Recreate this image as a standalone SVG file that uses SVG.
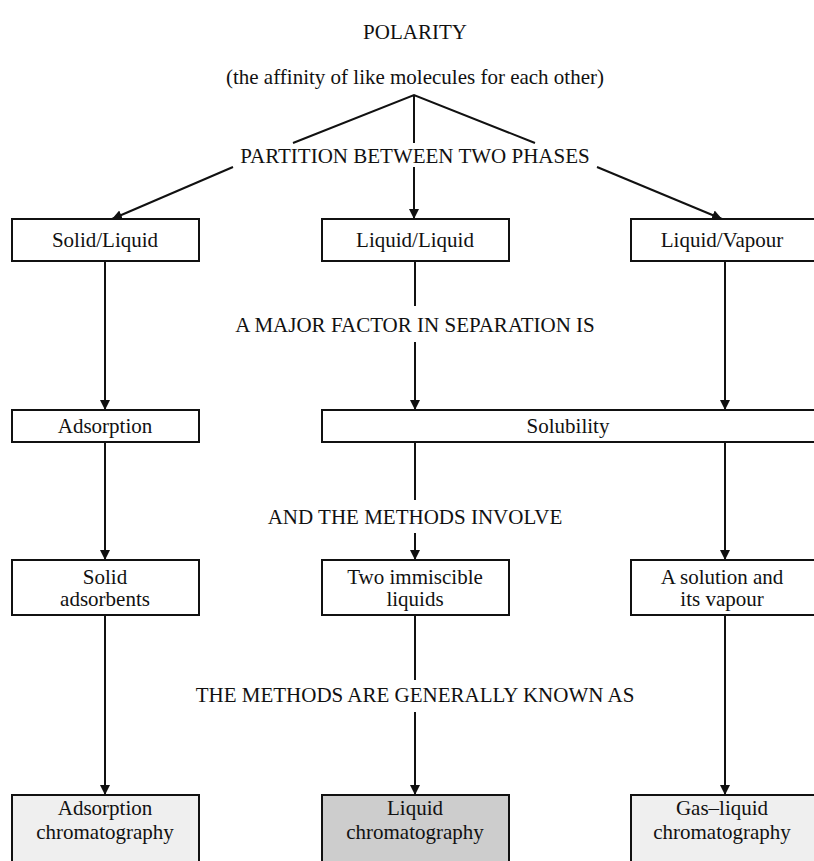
<svg xmlns="http://www.w3.org/2000/svg" width="814" height="861" viewBox="0 0 814 861" font-family="Liberation Serif, Times New Roman, serif">
<style>
text{font-family:'Liberation Serif','Times New Roman',serif;font-size:21px;fill:#111;text-anchor:middle;dominant-baseline:central}
.box{fill:#fff;stroke:#111;stroke-width:2}
.g1{fill:#efefef;stroke:#111;stroke-width:2}
.g2{fill:#cdcdcd;stroke:#111;stroke-width:2}
.c{stroke:#111;stroke-width:2;fill:none}
.a{marker-end:url(#ah)}
</style>
<defs>
<marker id="ah" viewBox="0 0 10 14" refX="10" refY="7" markerWidth="10" markerHeight="14" markerUnits="userSpaceOnUse" orient="auto">
<path d="M0,2 L10,7 L0,12 Z" fill="#111"/>
</marker>
</defs>
<g id="labels">
<text x="415" y="32">POLARITY</text>
<text x="415" y="77">(the affinity of like molecules for each other)</text>
<text x="415" y="156">PARTITION BETWEEN TWO PHASES</text>
<text x="415" y="325">A MAJOR FACTOR IN SEPARATION IS</text>
<text x="415" y="517">AND THE METHODS INVOLVE</text>
<text x="415" y="695">THE METHODS ARE GENERALLY KNOWN AS</text>
</g>
<g id="connectors">
<path class="c" d="M293,143 L414,95 L535,143 M414,95 L414,143"/>
<path class="c a" d="M233,167 L112,219"/>
<path class="c a" d="M414,167 L414,219"/>
<path class="c a" d="M597,167 L722,219"/>
<path class="c a" d="M105,261 L105,410"/>
<path class="c" d="M415,261 L415,306"/>
<path class="c a" d="M415,342 L415,410"/>
<path class="c a" d="M725,261 L725,410"/>
<path class="c a" d="M105,442 L105,560"/>
<path class="c" d="M415,442 L415,500"/>
<path class="c a" d="M415,533 L415,560"/>
<path class="c a" d="M725,442 L725,560"/>
<path class="c a" d="M105,615 L105,795"/>
<path class="c" d="M415,615 L415,680"/>
<path class="c a" d="M415,712 L415,795"/>
<path class="c a" d="M725,615 L725,795"/>
</g>
<g id="solid-liquid"><rect class="box" x="12" y="219" width="187" height="42"/><text x="105" y="240">Solid/Liquid</text></g>
<g id="liquid-liquid"><rect class="box" x="322" y="219" width="187" height="42"/><text x="415" y="240">Liquid/Liquid</text></g>
<g id="liquid-vapour"><rect class="box" x="631" y="219" width="190" height="42"/><text x="722" y="240">Liquid/Vapour</text></g>
<g id="adsorption"><rect class="box" x="12" y="410" width="187" height="32"/><text x="105" y="426">Adsorption</text></g>
<g id="solubility"><rect class="box" x="322" y="410" width="500" height="32"/><text x="568" y="426">Solubility</text></g>
<g id="solid-adsorbents"><rect class="box" x="12" y="560" width="187" height="55"/><text x="105" y="577">Solid</text><text x="105" y="599">adsorbents</text></g>
<g id="two-immiscible"><rect class="box" x="322" y="560" width="187" height="55"/><text x="415" y="577">Two immiscible</text><text x="415" y="599">liquids</text></g>
<g id="solution-vapour"><rect class="box" x="631" y="560" width="190" height="55"/><text x="722" y="577">A solution and</text><text x="722" y="599">its vapour</text></g>
<g id="adsorption-chrom"><rect class="g1" x="12" y="795" width="187" height="80"/><text x="105" y="808">Adsorption</text><text x="105" y="832">chromatography</text></g>
<g id="liquid-chrom"><rect class="g2" x="322" y="795" width="187" height="80"/><text x="415" y="808">Liquid</text><text x="415" y="832">chromatography</text></g>
<g id="gas-liquid-chrom"><rect class="g1" x="631" y="795" width="190" height="80"/><text x="722" y="808">Gas–liquid</text><text x="722" y="832">chromatography</text></g>
</svg>
